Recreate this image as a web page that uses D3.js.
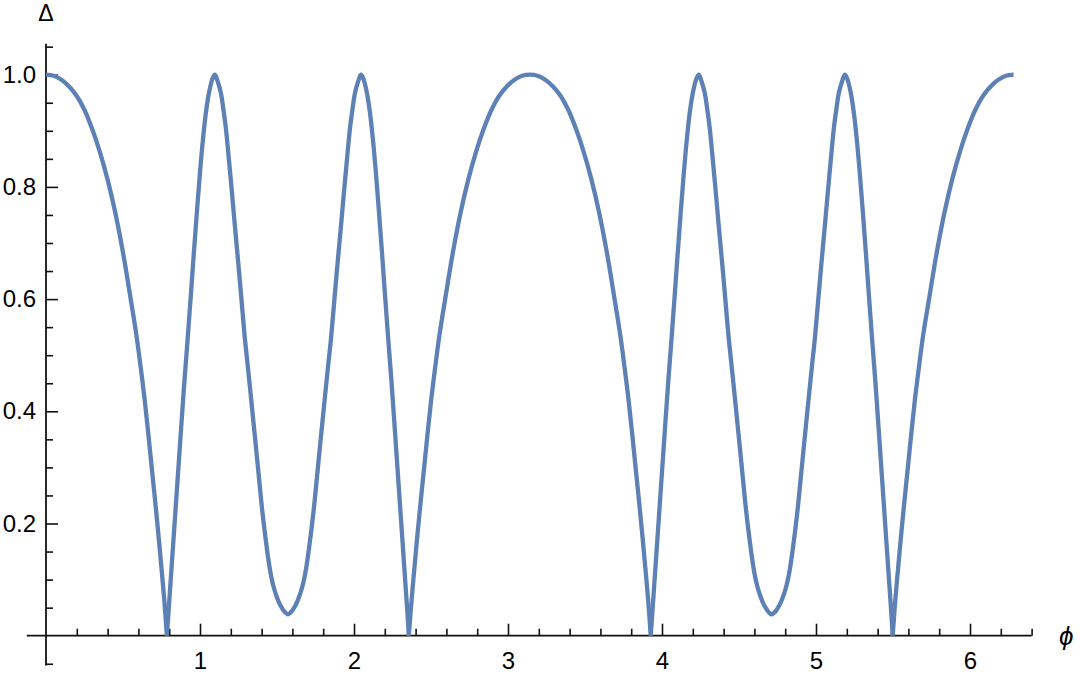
<!DOCTYPE html>
<html>
<head>
<meta charset="utf-8">
<script src="https://cdn.jsdelivr.net/npm/d3@7"></script>
<style>
  html, body { margin: 0; padding: 0; background: #fff; }
  svg { display: block; }
  text { font-family: "Liberation Sans", Arial, sans-serif; fill: #000; }
</style>
</head>
<body>
<svg></svg>
<script>
// phi values (radians), 0 .. 2pi
const phi = [
  0.000, 0.050, 0.100, 0.150, 0.200, 0.250, 0.300, 0.350, 0.400, 0.450,
  0.500, 0.550, 0.587, 0.615, 0.641, 0.664, 0.686, 0.708, 0.729, 0.749,
  0.768, 0.785, 0.795, 0.810, 0.825, 0.840, 0.855, 0.870, 0.885, 0.900,
  0.920, 0.940, 0.960, 0.980, 1.000, 1.020, 1.040, 1.060, 1.080, 1.097,
  1.115, 1.136, 1.150, 1.167, 1.188, 1.208, 1.227, 1.247, 1.266, 1.292,
  1.318, 1.340, 1.362, 1.383, 1.405, 1.431, 1.450, 1.465, 1.480, 1.500,
  1.520, 1.540, 1.555, 1.571,
  1.587, 1.602, 1.622, 1.642, 1.662, 1.677, 1.692, 1.711, 1.737, 1.759,
  1.780, 1.802, 1.824, 1.850, 1.876, 1.895, 1.915, 1.934, 1.954, 1.975,
  1.992, 2.006, 2.027, 2.045, 2.062, 2.082, 2.102, 2.122, 2.142, 2.162,
  2.182, 2.202, 2.222, 2.242, 2.257, 2.272, 2.287, 2.302, 2.317, 2.332,
  2.347, 2.356, 2.374, 2.393, 2.413, 2.434, 2.456, 2.478, 2.501, 2.527,
  2.555, 2.592, 2.642, 2.692, 2.742, 2.792, 2.842, 2.892, 2.942, 2.992,
  3.042, 3.092, 3.142,
  3.192, 3.242, 3.292, 3.342, 3.392, 3.442, 3.492, 3.542, 3.592, 3.642,
  3.692, 3.729, 3.757, 3.783, 3.806, 3.828, 3.850, 3.871, 3.891, 3.910,
  3.927, 3.937, 3.952, 3.967, 3.982, 3.997, 4.012, 4.027, 4.042, 4.062,
  4.082, 4.102, 4.122, 4.142, 4.162, 4.182, 4.202, 4.222, 4.239, 4.257,
  4.278, 4.292, 4.309, 4.330, 4.350, 4.369, 4.389, 4.408, 4.434, 4.460,
  4.482, 4.504, 4.525, 4.547, 4.573, 4.592, 4.607, 4.622, 4.642, 4.662,
  4.682, 4.697, 4.712,
  4.729, 4.744, 4.764, 4.784, 4.804, 4.819, 4.834, 4.853, 4.879, 4.901,
  4.922, 4.944, 4.966, 4.992, 5.018, 5.037, 5.057, 5.076, 5.096, 5.117,
  5.134, 5.148, 5.169, 5.187, 5.204, 5.224, 5.244, 5.264, 5.284, 5.304,
  5.324, 5.344, 5.364, 5.384, 5.399, 5.414, 5.429, 5.444, 5.459, 5.474,
  5.489, 5.498, 5.515, 5.534, 5.554, 5.575, 5.597, 5.619, 5.642, 5.668,
  5.696, 5.734, 5.784, 5.834, 5.884, 5.934, 5.984, 6.034, 6.084, 6.134,
  6.184, 6.234, 6.283
];

// Delta values at those phi
const delta = [
  1.000, 0.998, 0.991, 0.979, 0.962, 0.937, 0.903, 0.862, 0.813, 0.754,
  0.683, 0.600, 0.536, 0.478, 0.420, 0.361, 0.301, 0.242, 0.183, 0.123,
  0.064, 0.000, 0.040, 0.100, 0.160, 0.220, 0.280, 0.340, 0.400, 0.458,
  0.530, 0.605, 0.682, 0.756, 0.826, 0.887, 0.936, 0.970, 0.992, 1.000,
  0.988, 0.967, 0.942, 0.907, 0.848, 0.788, 0.729, 0.669, 0.610, 0.528,
  0.460, 0.400, 0.340, 0.281, 0.221, 0.162, 0.125, 0.102, 0.085, 0.068,
  0.055, 0.046, 0.041, 0.038,
  0.041, 0.046, 0.055, 0.068, 0.085, 0.102, 0.125, 0.162, 0.221, 0.281,
  0.340, 0.400, 0.460, 0.528, 0.610, 0.669, 0.729, 0.788, 0.848, 0.907,
  0.942, 0.967, 0.988, 1.000, 0.992, 0.970, 0.936, 0.887, 0.826, 0.756,
  0.682, 0.605, 0.530, 0.458, 0.400, 0.340, 0.280, 0.220, 0.160, 0.100,
  0.040, 0.000, 0.064, 0.123, 0.183, 0.242, 0.301, 0.361, 0.420, 0.478,
  0.536, 0.600, 0.683, 0.754, 0.813, 0.862, 0.903, 0.937, 0.962, 0.979,
  0.991, 0.998, 1.000,
  0.998, 0.991, 0.979, 0.962, 0.937, 0.903, 0.862, 0.813, 0.754, 0.683,
  0.600, 0.536, 0.478, 0.420, 0.361, 0.301, 0.242, 0.183, 0.123, 0.064,
  0.000, 0.040, 0.100, 0.160, 0.220, 0.280, 0.340, 0.400, 0.458, 0.530,
  0.605, 0.682, 0.756, 0.826, 0.887, 0.936, 0.970, 0.992, 1.000, 0.988,
  0.967, 0.942, 0.907, 0.848, 0.788, 0.729, 0.669, 0.610, 0.528, 0.460,
  0.400, 0.340, 0.281, 0.221, 0.162, 0.125, 0.102, 0.085, 0.068, 0.055,
  0.046, 0.041, 0.038,
  0.041, 0.046, 0.055, 0.068, 0.085, 0.102, 0.125, 0.162, 0.221, 0.281,
  0.340, 0.400, 0.460, 0.528, 0.610, 0.669, 0.729, 0.788, 0.848, 0.907,
  0.942, 0.967, 0.988, 1.000, 0.992, 0.970, 0.936, 0.887, 0.826, 0.756,
  0.682, 0.605, 0.530, 0.458, 0.400, 0.340, 0.280, 0.220, 0.160, 0.100,
  0.040, 0.000, 0.064, 0.123, 0.183, 0.242, 0.301, 0.361, 0.420, 0.478,
  0.536, 0.600, 0.683, 0.754, 0.813, 0.862, 0.903, 0.937, 0.962, 0.979,
  0.991, 0.998, 1.000
];

const xMajor = [1, 2, 3, 4, 5, 6];
const xMinor = [0.2, 0.4, 0.6, 0.8, 1.2, 1.4, 1.6, 1.8, 2.2, 2.4, 2.6, 2.8,
  3.2, 3.4, 3.6, 3.8, 4.2, 4.4, 4.6, 4.8, 5.2, 5.4, 5.6, 5.8, 6.2, 6.4];
const yMajor = [0.2, 0.4, 0.6, 0.8, 1.0];
const yMinor = [-0.05, 0.05, 0.1, 0.15, 0.25, 0.3, 0.35, 0.45, 0.5, 0.55,
  0.65, 0.7, 0.75, 0.85, 0.9, 0.95, 1.05];

const width = 1080;
const height = 673;

const svg = d3.select("svg")
    .attr("width", width)
    .attr("height", height);

const x = d3.scaleLinear()
    .domain([0, 6.4])
    .range([46, 46 + 154 * 6.4]);

const y = d3.scaleLinear()
    .domain([0, 1])
    .range([635.7, 74.7]);

const axisColor = "#111";

// axis lines
svg.append("line")
    .attr("x1", x(-0.125)).attr("x2", x(6.4))
    .attr("y1", y(0)).attr("y2", y(0))
    .attr("stroke", axisColor).attr("stroke-width", 1.8);
svg.append("line")
    .attr("x1", x(0)).attr("x2", x(0))
    .attr("y1", y(1.055)).attr("y2", y(-0.053))
    .attr("stroke", axisColor).attr("stroke-width", 1.8);

function tickAxis(axis, tx, ty) {
  const g = svg.append("g")
      .attr("transform", `translate(${tx}, ${ty})`)
      .call(axis);
  g.select(".domain").remove();
  g.selectAll(".tick line").attr("stroke", axisColor).attr("stroke-width", 1.6);
  return g;
}

// x ticks (pointing up)
tickAxis(d3.axisTop(x).tickValues(xMajor).tickSize(12).tickFormat(""), 0, y(0));
tickAxis(d3.axisTop(x).tickValues(xMinor).tickSize(7).tickFormat(""), 0, y(0));
// y ticks (pointing right)
tickAxis(d3.axisRight(y).tickValues(yMajor).tickSize(12).tickFormat(""), x(0), 0);
tickAxis(d3.axisRight(y).tickValues(yMinor).tickSize(7).tickFormat(""), x(0), 0);

// tick labels
const xl = tickAxis(d3.axisBottom(x).tickValues(xMajor).tickSize(0).tickPadding(16)
    .tickFormat(d3.format("d")), 0, y(0));
xl.selectAll("text").attr("font-size", 24).attr("font-family", "Liberation Sans, Arial, sans-serif").attr("fill", "#000");

const yl = tickAxis(d3.axisLeft(y).tickValues(yMajor).tickSize(0).tickPadding(10)
    .tickFormat(d3.format(".1f")), x(0), 0);
yl.selectAll("text").attr("font-size", 24).attr("font-family", "Liberation Sans, Arial, sans-serif").attr("fill", "#000");

// axis labels
svg.append("text")
    .attr("x", x(0))
    .attr("y", 21)
    .attr("text-anchor", "middle")
    .attr("font-size", 23)
    .text("Δ");

svg.append("text")
    .attr("x", 1059)
    .attr("y", 645)
    .attr("font-size", 26)
    .attr("font-style", "italic")
    .attr("font-family", "DejaVu Sans, sans-serif")
    .text("ϕ");

// curve, split at the cusps so they stay sharp
const points = phi.map((p, i) => [p, delta[i]]);
const pieces = [[]];
points.forEach((d, i) => {
  pieces[pieces.length - 1].push(d);
  if (d[1] === 0 && i > 0 && i < points.length - 1) pieces.push([d]);
});

const line = d3.line()
    .x(d => x(d[0]))
    .y(d => y(d[1]))
    .curve(d3.curveCatmullRom.alpha(0.5));

svg.selectAll("path.curve")
    .data(pieces)
    .enter()
    .append("path")
    .attr("class", "curve")
    .attr("d", line)
    .attr("fill", "none")
    .attr("stroke", "#5e81b5")
    .attr("stroke-width", 4.3)
    .attr("stroke-linejoin", "round")
    .attr("stroke-linecap", "butt");
</script>
</body>
</html>
